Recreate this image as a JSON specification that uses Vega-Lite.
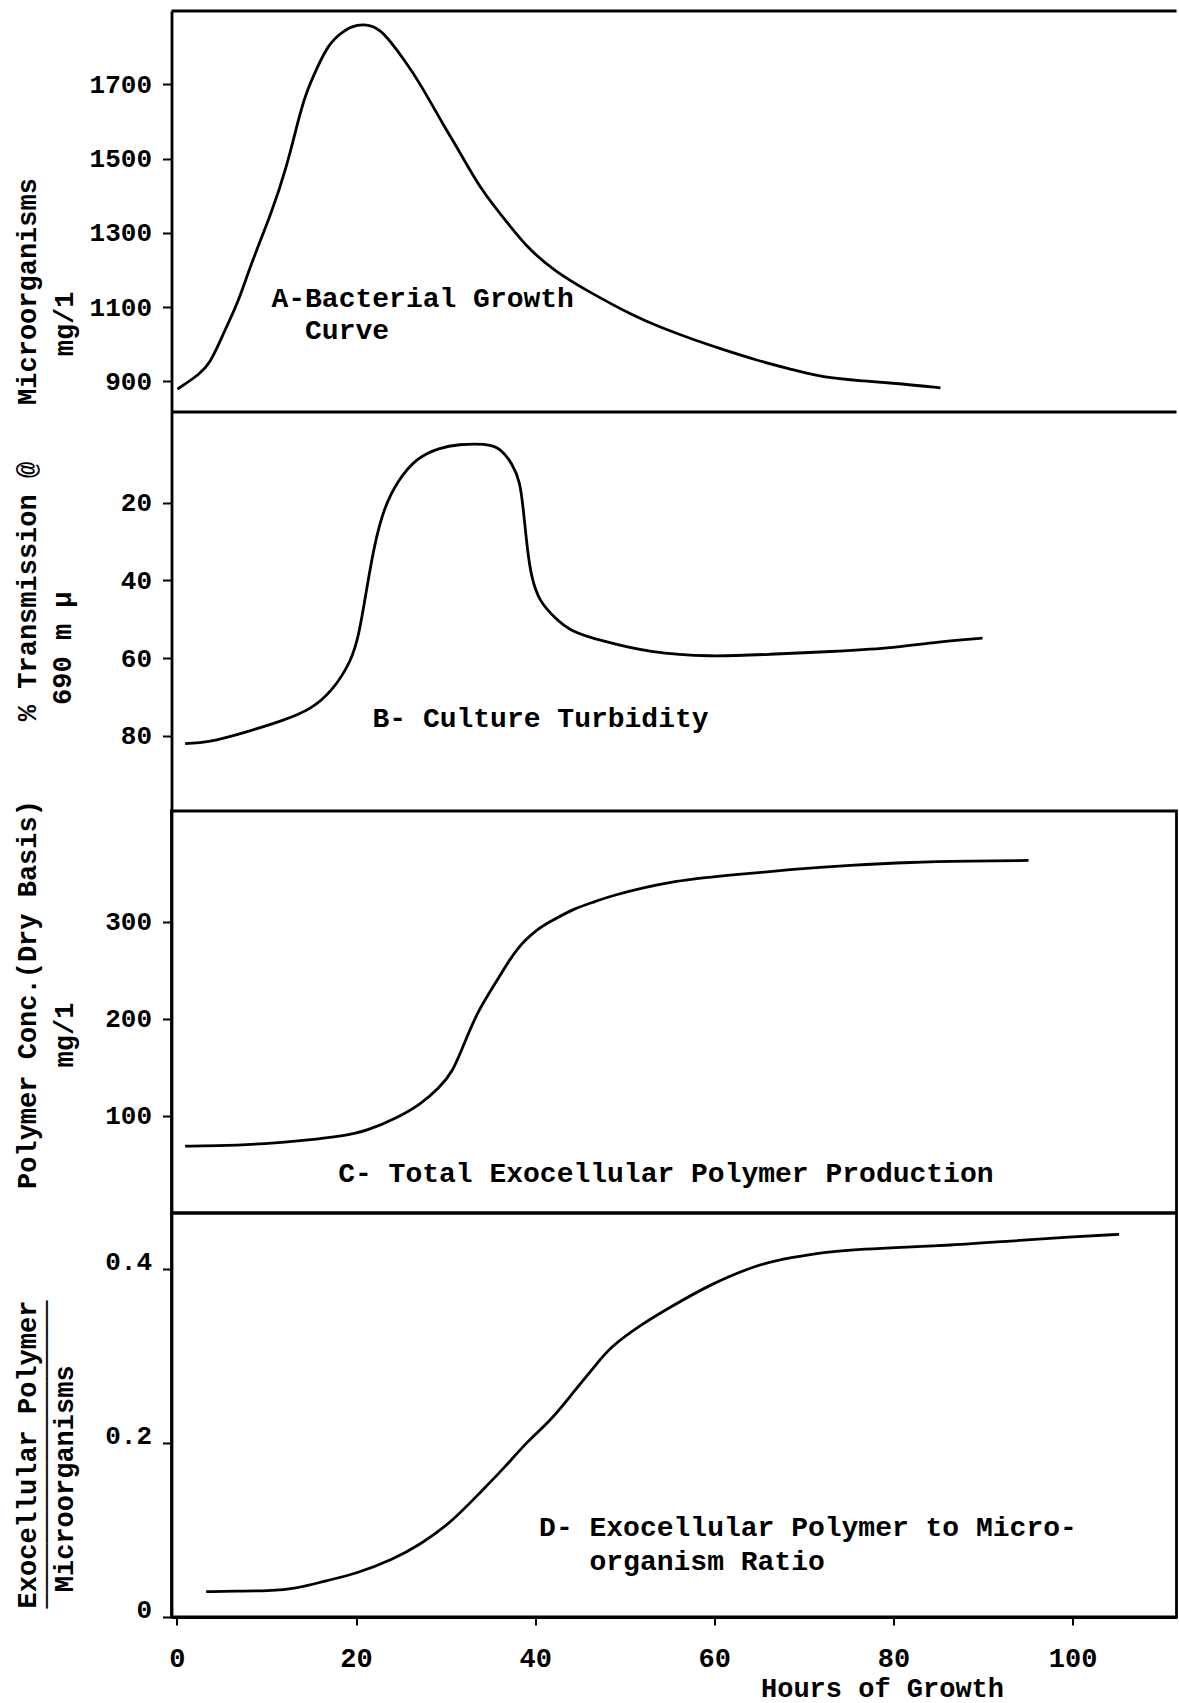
{
  "$schema": "https://vega.github.io/schema/vega-lite/v6.json",
  "background": "white",
  "padding": {"left": 11.5, "top": 9, "right": 0, "bottom": 2},
  "spacing": 0,
  "bounds": "flush",
  "config": {
    "font": "Liberation Mono",
    "view": {"stroke": "black", "strokeWidth": 2.8},
    "axis": {
      "grid": false,
      "domainColor": "black",
      "domainWidth": 2.8,
      "tickColor": "black",
      "tickWidth": 2,
      "tickSize": 9,
      "labelColor": "black",
      "labelFont": "Liberation Mono",
      "labelFontSize": 26,
      "labelFontWeight": "bold",
      "labelPadding": 11,
      "format": "d",
      "titleColor": "black",
      "titleFont": "Liberation Mono",
      "titleFontSize": 27,
      "titleFontWeight": "bold"
    },
    "text": {"font": "Liberation Mono", "fontSize": 28, "fontWeight": "bold", "color": "black"},
    "line": {"color": "black", "strokeWidth": 2.8, "interpolate": "basis"},
    "rule": {"color": "black", "strokeWidth": 2.8}
  },
  "datasets": {
    "growth": [
      {"hours": 0.07, "mg_per_l": 879}, {"hours": 2.63, "mg_per_l": 920}, {"hours": 3.7, "mg_per_l": 950},
      {"hours": 4.76, "mg_per_l": 1004}, {"hours": 5.83, "mg_per_l": 1062}, {"hours": 6.88, "mg_per_l": 1116},
      {"hours": 8.4, "mg_per_l": 1224}, {"hours": 10.53, "mg_per_l": 1351}, {"hours": 12.24, "mg_per_l": 1476},
      {"hours": 13.52, "mg_per_l": 1601}, {"hours": 14.36, "mg_per_l": 1674}, {"hours": 15.65, "mg_per_l": 1745},
      {"hours": 16.93, "mg_per_l": 1809}, {"hours": 18.64, "mg_per_l": 1846}, {"hours": 20.14, "mg_per_l": 1862},
      {"hours": 21.61, "mg_per_l": 1860}, {"hours": 22.92, "mg_per_l": 1846}, {"hours": 25.49, "mg_per_l": 1763},
      {"hours": 27.2, "mg_per_l": 1701}, {"hours": 29.76, "mg_per_l": 1590}, {"hours": 31.44, "mg_per_l": 1524},
      {"hours": 34.01, "mg_per_l": 1413}, {"hours": 37.02, "mg_per_l": 1324}, {"hours": 39.14, "mg_per_l": 1259},
      {"hours": 42.16, "mg_per_l": 1197}, {"hours": 45.84, "mg_per_l": 1143}, {"hours": 50.98, "mg_per_l": 1076},
      {"hours": 54.1, "mg_per_l": 1044}, {"hours": 58.12, "mg_per_l": 1008}, {"hours": 60.41, "mg_per_l": 990},
      {"hours": 64.89, "mg_per_l": 955}, {"hours": 68.47, "mg_per_l": 933}, {"hours": 72.06, "mg_per_l": 910},
      {"hours": 76.53, "mg_per_l": 901}, {"hours": 81.01, "mg_per_l": 893}, {"hours": 85.25, "mg_per_l": 882}
    ],
    "turbidity": [
      {"hours": 0.92, "transmission": 81.97}, {"hours": 3.48, "transmission": 81.71}, {"hours": 7.55, "transmission": 79.14},
      {"hours": 11.79, "transmission": 76.13}, {"hours": 15.03, "transmission": 73.13}, {"hours": 17.37, "transmission": 68.42},
      {"hours": 19.49, "transmission": 60.71}, {"hours": 20.35, "transmission": 53.85}, {"hours": 21.21, "transmission": 41.87},
      {"hours": 22.06, "transmission": 30.71}, {"hours": 23.13, "transmission": 21.3}, {"hours": 24.63, "transmission": 14.44},
      {"hours": 26.75, "transmission": 8.45}, {"hours": 29.32, "transmission": 5.88}, {"hours": 31.44, "transmission": 5.0},
      {"hours": 34.45, "transmission": 4.85}, {"hours": 36.13, "transmission": 5.88}, {"hours": 37.47, "transmission": 10.14},
      {"hours": 38.31, "transmission": 14.44}, {"hours": 38.7, "transmission": 22.15}, {"hours": 39.14, "transmission": 32.43},
      {"hours": 39.59, "transmission": 39.3}, {"hours": 40.44, "transmission": 45.29}, {"hours": 42.16, "transmission": 49.58},
      {"hours": 43.83, "transmission": 53.0}, {"hours": 47.41, "transmission": 55.57}, {"hours": 52.76, "transmission": 58.58},
      {"hours": 59.46, "transmission": 59.68}, {"hours": 66.23, "transmission": 58.99}, {"hours": 72.95, "transmission": 58.32},
      {"hours": 79.67, "transmission": 57.45}, {"hours": 84.14, "transmission": 56.01}, {"hours": 89.94, "transmission": 54.87}
    ],
    "polymer": [
      {"hours": 0.92, "polymer_mg_per_l": 68.97}, {"hours": 4.09, "polymer_mg_per_l": 68.97}, {"hours": 10.12, "polymer_mg_per_l": 71.33},
      {"hours": 14.36, "polymer_mg_per_l": 74.83}, {"hours": 18.6, "polymer_mg_per_l": 79.26}, {"hours": 21.17, "polymer_mg_per_l": 84.41},
      {"hours": 24.63, "polymer_mg_per_l": 98.1}, {"hours": 27.2, "polymer_mg_per_l": 111.89}, {"hours": 29.32, "polymer_mg_per_l": 128.98},
      {"hours": 30.83, "polymer_mg_per_l": 146.17}, {"hours": 31.89, "polymer_mg_per_l": 170.15}, {"hours": 33.56, "polymer_mg_per_l": 207.93},
      {"hours": 35.74, "polymer_mg_per_l": 238.8}, {"hours": 37.88, "polymer_mg_per_l": 273.08}, {"hours": 40.44, "polymer_mg_per_l": 293.67},
      {"hours": 41.6, "polymer_mg_per_l": 299.54}, {"hours": 44.28, "polymer_mg_per_l": 313.43}, {"hours": 46.85, "polymer_mg_per_l": 321.15},
      {"hours": 48.3, "polymer_mg_per_l": 326.3}, {"hours": 54.99, "polymer_mg_per_l": 341.74}, {"hours": 61.75, "polymer_mg_per_l": 347.92},
      {"hours": 68.47, "polymer_mg_per_l": 353.78}, {"hours": 75.2, "polymer_mg_per_l": 358.21}, {"hours": 81.9, "polymer_mg_per_l": 361.3},
      {"hours": 88.6, "polymer_mg_per_l": 362.33}, {"hours": 95.08, "polymer_mg_per_l": 363.05}
    ],
    "ratio": [
      {"hours": 3.27, "ratio": 0.0291}, {"hours": 6.65, "ratio": 0.0299}, {"hours": 10.12, "ratio": 0.0299},
      {"hours": 13.52, "ratio": 0.033}, {"hours": 16.48, "ratio": 0.0414}, {"hours": 19.94, "ratio": 0.0495},
      {"hours": 24.18, "ratio": 0.0664}, {"hours": 27.2, "ratio": 0.0837}, {"hours": 30.61, "ratio": 0.1085},
      {"hours": 34.01, "ratio": 0.145}, {"hours": 36.58, "ratio": 0.1718}, {"hours": 39.14, "ratio": 0.2026},
      {"hours": 41.71, "ratio": 0.2256}, {"hours": 44.28, "ratio": 0.259}, {"hours": 46.85, "ratio": 0.2909},
      {"hours": 48.3, "ratio": 0.31}, {"hours": 51.87, "ratio": 0.3369}, {"hours": 55.0, "ratio": 0.356},
      {"hours": 59.51, "ratio": 0.3829}, {"hours": 64.89, "ratio": 0.406}, {"hours": 68.47, "ratio": 0.4136},
      {"hours": 72.95, "ratio": 0.4213}, {"hours": 79.67, "ratio": 0.4251}, {"hours": 86.37, "ratio": 0.4278},
      {"hours": 93.07, "ratio": 0.4328}, {"hours": 99.77, "ratio": 0.4374}, {"hours": 105.19, "ratio": 0.4405}
    ]
  },
  "vconcat": [
    {
      "width": 1005,
      "height": 401,
      "view": {"stroke": null},
      "layer": [
        {
          "data": {"name": "growth"},
          "mark": {"type": "line"},
          "encoding": {
            "x": {"field": "hours", "type": "quantitative", "scale": {"domain": [-0.6, 111.6], "nice": false, "zero": false}, "axis": null},
            "y": {
              "field": "mg_per_l", "type": "quantitative",
              "scale": {"domain": [817, 1898], "nice": false, "zero": false},
              "axis": {
                "values": [900, 1100, 1300, 1500, 1700],
                "title": ["Microorganisms", "mg/1\u00a0\u00a0\u00a0\u00a0\u200b"],
                "titleAngle": 270, "titleAlign": "center", "titleBaseline": "middle",
                "titleX": -144, "titleY": 280, "titleLineHeight": 37
              }
            }
          }
        },
        {
          "data": {"values": [{}]},
          "mark": {"type": "rule"},
          "encoding": {"y": {"datum": 1898, "type": "quantitative"}}
        },
        {
          "data": {"values": [{}]},
          "mark": {"type": "rule"},
          "encoding": {"y": {"datum": 817, "type": "quantitative"}}
        },
        {
          "data": {"values": [{}]},
          "mark": {"type": "text", "text": ["A-Bacterial Growth", "\u200b\u00a0\u00a0Curve"], "align": "left", "baseline": "middle", "lineHeight": 32},
          "encoding": {
            "x": {"datum": 10.56, "type": "quantitative"},
            "y": {"datum": 1121.7, "type": "quantitative"}
          }
        }
      ]
    },
    {
      "width": 1005,
      "height": 399,
      "view": {"stroke": null},
      "layer": [
        {
          "data": {"name": "turbidity"},
          "mark": {"type": "line"},
          "encoding": {
            "x": {"field": "hours", "type": "quantitative", "scale": {"domain": [-0.6, 111.6], "nice": false, "zero": false}, "axis": null},
            "y": {
              "field": "transmission", "type": "quantitative",
              "scale": {"domain": [-3.3, 99.3], "reverse": true, "nice": false, "zero": false},
              "axis": {
                "values": [20, 40, 60, 80],
                "title": ["% Transmission @", "690 m \u03bc\u00a0\u00a0\u00a0\u00a0\u00a0\u00a0\u00a0\u200b"],
                "titleAngle": 270, "titleAlign": "center", "titleBaseline": "middle",
                "titleX": -144, "titleY": 179, "titleLineHeight": 35
              }
            }
          }
        },
        {
          "data": {"values": [{}]},
          "mark": {"type": "text", "text": "B- Culture Turbidity", "align": "left", "baseline": "middle"},
          "encoding": {
            "x": {"datum": 21.84, "type": "quantitative"},
            "y": {"datum": 75.6, "type": "quantitative"}
          }
        }
      ]
    },
    {
      "width": 1005,
      "height": 402,
      "layer": [
        {
          "data": {"name": "polymer"},
          "mark": {"type": "line"},
          "encoding": {
            "x": {"field": "hours", "type": "quantitative", "scale": {"domain": [-0.6, 111.6], "nice": false, "zero": false}, "axis": null},
            "y": {
              "field": "polymer_mg_per_l", "type": "quantitative",
              "scale": {"domain": [0, 414], "nice": false, "zero": false},
              "axis": {
                "values": [100, 200, 300],
                "title": ["Polymer Conc.(Dry Basis)", "mg/1\u00a0\u00a0\u00a0\u00a0\u00a0\u200b"],
                "titleAngle": 270, "titleAlign": "center", "titleBaseline": "middle",
                "titleX": -144, "titleY": 183, "titleLineHeight": 37
              }
            }
          }
        },
        {
          "data": {"values": [{}]},
          "mark": {"type": "text", "text": "C- Total Exocellular Polymer Production", "align": "left", "baseline": "middle"},
          "encoding": {
            "x": {"datum": 18.01, "type": "quantitative"},
            "y": {"datum": 40.1, "type": "quantitative"}
          }
        }
      ]
    },
    {
      "width": 1005,
      "height": 404,
      "layer": [
        {
          "data": {"name": "ratio"},
          "mark": {"type": "line"},
          "encoding": {
            "x": {
              "field": "hours", "type": "quantitative",
              "scale": {"domain": [-0.6, 111.6], "nice": false, "zero": false},
              "axis": {
                "values": [0, 20, 40, 60, 80, 100],
                "title": "Hours of Growth",
                "tickSize": 8,
                "labelFontSize": 27,
                "labelBaseline": "middle",
                "labelPadding": 33,
                "titleAlign": "center", "titleBaseline": "middle",
                "titleX": 710.5, "titleY": 71
              }
            },
            "y": {
              "field": "ratio", "type": "quantitative",
              "scale": {"domain": [0, 0.465], "nice": false, "zero": false},
              "axis": {
                "values": [0, 0.2, 0.4],
                "labelExpr": "datum.value === 0 ? '0' : format(datum.value, '.1f')",
                "labelOffset": -8,
                "title": ["Exocellular Polymer", "\u2500\u2500\u2500\u2500\u2500\u2500\u2500\u2500\u2500\u2500\u2500\u2500\u2500\u2500\u2500\u2500\u2500\u2500\u2500", "Microorganisms\u00a0\u00a0\u00a0\u200b"],
                "titleAngle": 270, "titleAlign": "center", "titleBaseline": "middle",
                "titleX": -144, "titleY": 241, "titleLineHeight": 18.5
              }
            }
          }
        },
        {
          "data": {"values": [{}]},
          "mark": {"type": "text", "text": ["D- Exocellular Polymer to Micro-", "\u200b\u00a0\u00a0\u00a0organism Ratio"], "align": "left", "baseline": "middle", "lineHeight": 34},
          "encoding": {
            "x": {"datum": 40.44, "type": "quantitative"},
            "y": {"datum": 0.103, "type": "quantitative"}
          }
        }
      ]
    }
  ]
}
